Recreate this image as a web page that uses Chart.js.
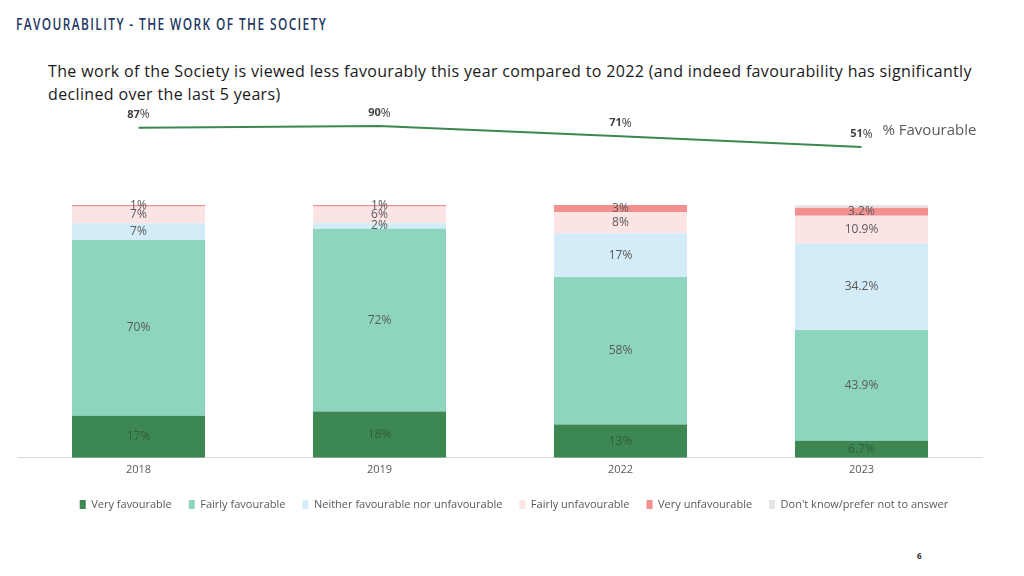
<!DOCTYPE html>
<html>
<head>
<meta charset="utf-8">
<script src="https://cdn.jsdelivr.net/npm/chart.js@4.4.0/dist/chart.umd.min.js"></script>
<style>
body { margin: 0; width: 1024px; height: 576px; background: #fff; position: relative; overflow: hidden; font-family: 'Open Sans', sans-serif; }
#title { position: absolute; left: 16px; top: 14px; font-family: 'Open Sans', sans-serif; font-weight: 600; font-size: 17px; line-height: 20px; letter-spacing: 2px; color: #1f3864; transform: scaleX(0.70); transform-origin: left center; white-space: nowrap; }
#subtitle { position: absolute; left: 48px; top: 60px; font-size: 16px; line-height: 23px; letter-spacing: 0.35px; color: #1a1a1a; white-space: nowrap; }
#lineBox { position: absolute; left: 0; top: 100px; width: 1024px; height: 60px; }
#barBox { position: absolute; left: 0; top: 195px; width: 1024px; height: 335px; }
#page { position: absolute; left: 917px; top: 550px; font-size: 8px; font-weight: bold; color: #333; }
</style>
</head>
<body>
<div id="title">FAVOURABILITY - THE WORK OF THE SOCIETY</div>
<div id="subtitle">The work of the Society is viewed less favourably this year compared to 2022 (and indeed favourability has significantly<br>declined over the last 5 years)</div>
<div id="lineBox"><canvas id="lineChart"></canvas></div>
<div id="barBox"><canvas id="barChart"></canvas></div>
<div id="page">6</div>
<script>
// survey years
const years = ['2018', '2019', '2022', '2023'];

// % favourable (line on top)
const favourable = [87, 90, 71, 51];

// stacked answers, bottom to top
const veryFav = [16.6, 18.3, 13.2, 6.7];
const fairlyFav = [69.6, 72.3, 58.3, 43.9];
const neither = [6.6, 2.4, 17.3, 34.2];
const fairlyUnfav = [6.6, 6.4, 8.3, 10.9];
const veryUnfav = [0.6, 0.6, 2.9, 3.2];
const dontKnow = [0, 0, 0, 1.1];

// 2023 labels are shown with one decimal
const labelDecimals = [0, 0, 0, 1];

Chart.defaults.font.family = "'Open Sans', sans-serif";

//writes the % inside each bar segment
const barLabels = {
    id: 'barLabels',
    afterDatasetsDraw(chart) {
        const ctx = chart.ctx;
        ctx.save();
        ctx.font = "12px 'Open Sans', sans-serif";
        ctx.textAlign = 'center';
        ctx.textBaseline = 'middle';
        chart.data.datasets.forEach((ds, i) => {
            if (ds.noLabel) return;
            chart.getDatasetMeta(i).data.forEach((bar, j) => {
                const v = ds.data[j];
                if (!v) return;
                ctx.fillStyle = ds.labelColor;
                ctx.fillText(v.toFixed(labelDecimals[j]) + '%', bar.x, (bar.y + bar.base) / 2);
            });
        });
        ctx.restore();
    }
};

//legend sits a bit right of the plot centre in the original
const legendShift = {
    id: 'legendShift',
    afterLayout(chart) {
        chart.legend.left += 14;
        chart.legend.right += 14;
    }
};

//value above each point + series name after the last one
const lineLabels = {
    id: 'lineLabels',
    afterDatasetsDraw(chart) {
        const ctx = chart.ctx;
        const pts = chart.getDatasetMeta(0).data;
        ctx.save();
        ctx.textBaseline = 'middle';
        ctx.textAlign = 'left';
        ctx.fillStyle = '#404040';
        pts.forEach((p, i) => {
            const num = String(favourable[i]);
            ctx.font = "bold 11px 'Open Sans', sans-serif";
            const w1 = ctx.measureText(num).width;
            ctx.font = "12px 'Open Sans', sans-serif";
            const w2 = ctx.measureText('%').width;
            const x = p.x - (w1 + w2) / 2;
            const y = p.y - 13;
            ctx.font = "bold 11px 'Open Sans', sans-serif";
            ctx.fillText(num, x, y);
            ctx.font = "12px 'Open Sans', sans-serif";
            ctx.fillText('%', x + w1, y);
        });
        const last = pts[pts.length - 1];
        ctx.font = "15px 'Open Sans', sans-serif";
        ctx.fillStyle = '#595959';
        ctx.fillText(chart.data.datasets[0].label, last.x + 21, last.y - 16);
        ctx.restore();
    }
};

new Chart(document.getElementById('lineChart'), {
    type: 'line',
    data: {
        labels: years,
        datasets: [{ label: '% Favourable', data: favourable, borderColor: '#3d8752', borderWidth: 2, pointRadius: 0, tension: 0, clip: false }]
    },
    options: {
        responsive: true, maintainAspectRatio: false, animation: false,
        layout: { padding: { left: 18, right: 42, top: 10, bottom: 7 } },
        plugins: { legend: { display: false }, tooltip: { enabled: false } },
        scales: {
            x: { display: false, offset: true },
            y: { display: false, min: 40, max: 120 }
        }
    },
    plugins: [lineLabels]
});

const grey = '#595959';
new Chart(document.getElementById('barChart'), {
    type: 'bar',
    data: {
        labels: years,
        datasets: [
            { label: 'Very favourable', data: veryFav, backgroundColor: '#3d8752', labelColor: '#2f5f3d' },
            { label: 'Fairly favourable', data: fairlyFav, backgroundColor: '#8dd5bf', labelColor: grey },
            { label: 'Neither favourable nor unfavourable', data: neither, backgroundColor: '#d3ecf8', labelColor: grey },
            { label: 'Fairly unfavourable', data: fairlyUnfav, backgroundColor: '#fce4e4', labelColor: grey },
            { label: 'Very unfavourable', data: veryUnfav, backgroundColor: '#f29090', labelColor: grey },
            { label: "Don't know/prefer not to answer", data: dontKnow, backgroundColor: '#e6e6e6', noLabel: true }
        ]
    },
    options: {
        responsive: true, maintainAspectRatio: false, animation: false,
        barPercentage: 0.552, categoryPercentage: 1,
        layout: { padding: { left: 18, right: 42, top: 10, bottom: 10 } },
        plugins: {
            tooltip: { enabled: false },
            legend: {
                position: 'bottom',
                labels: { boxWidth: 6, boxHeight: 9, color: grey, font: { size: 11 }, padding: 17 }
            }
        },
        scales: {
            x: {
                stacked: true,
                grid: { display: false, drawTicks: false },
                border: { color: '#d9d9d9' },
                ticks: { color: grey, font: { size: 11 }, padding: 5 },
                afterFit(scale) { scale.height += 1; }
            },
            y: { stacked: true, display: false, min: 0, max: 100 }
        }
    },
    plugins: [barLabels, legendShift]
});
</script>
</body>
</html>
